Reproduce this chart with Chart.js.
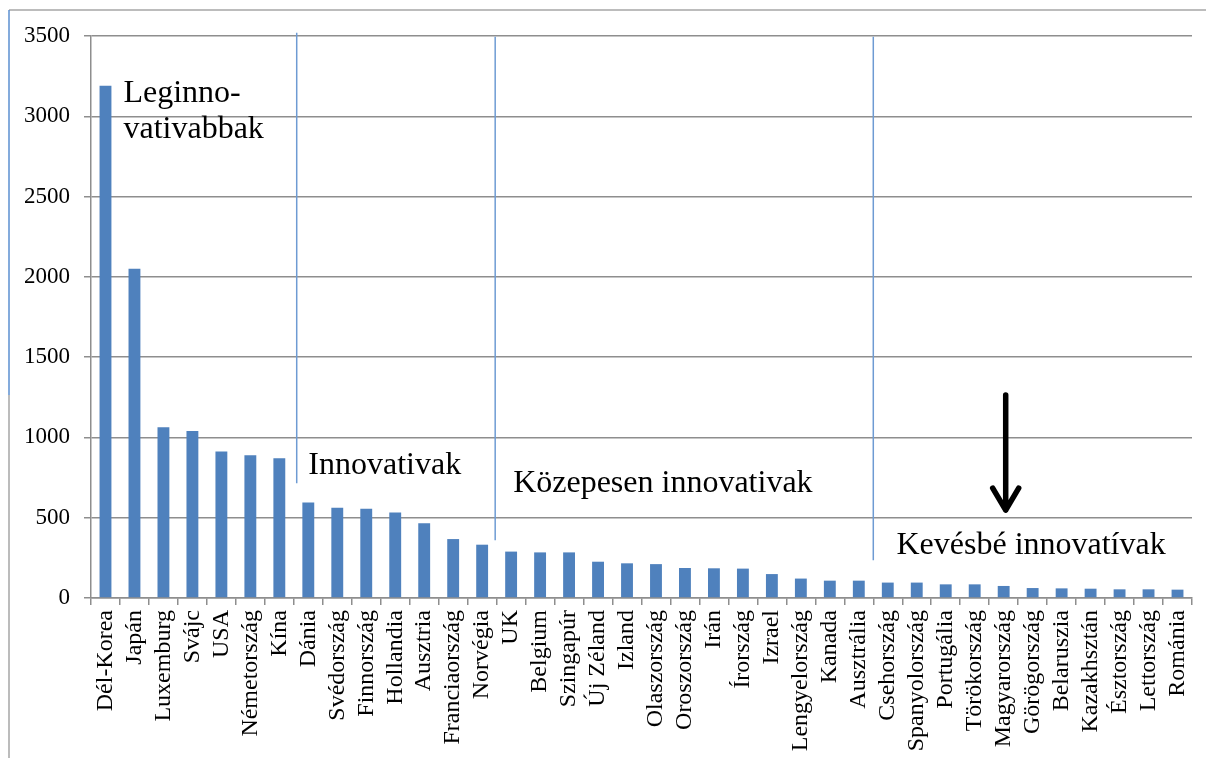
<!DOCTYPE html>
<html>
<head>
<meta charset="utf-8">
<script src="https://cdn.jsdelivr.net/npm/chart.js@4"></script>
<style>
  html, body { margin: 0; padding: 0; background: #fff; }
  #wrap { width: 1206px; height: 758px; position: relative; }
</style>
</head>
<body>
<div id="wrap"><canvas id="innovChart"></canvas></div>
<script>
// -----------------------------
// DATA
// -----------------------------
const countries = [
    'Dél-Korea', 'Japán', 'Luxemburg', 'Svájc', 'USA', 'Németország', 'Kína',
    'Dánia', 'Svédország', 'Finnország', 'Hollandia', 'Ausztria', 'Franciaország',
    'Norvégia', 'UK', 'Belgium', 'Szingapúr', 'Új Zéland', 'Izland', 'Olaszország',
    'Oroszország', 'Irán', 'Írország', 'Izrael', 'Lengyelország', 'Kanada',
    'Ausztrália', 'Csehország', 'Spanyolország', 'Portugália', 'Törökország',
    'Magyarország', 'Görögország', 'Belaruszia', 'Kazakhsztán', 'Észtország',
    'Lettország', 'Románia'
];

const values = [
    3190, 2050, 1063, 1040, 912, 889, 871,
    595, 562, 556, 533, 466, 367,
    332, 289, 284, 284, 226, 216, 211,
    187, 185, 183, 149, 121, 108,
    108, 96, 96, 85, 85,
    75, 62, 60, 58, 54,
    54, 52
];

const yTicks = [0, 500, 1000, 1500, 2000, 2500, 3000, 3500];

// group separators: [position between categories, top value, bottom value]
const separators = [
    [6.6, 3520, 715],
    [13.45, 3495, 360],
    [26.5, 3495, 235]
];

// group captions: [text, x position (category units), y value of baseline]
const captions = [
    ['Leginno-', 0.62, 3090],
    ['vativabbak', 0.62, 2862],
    ['Innovativak', 7.0, 773],
    ['Közepesen innovativak', 14.07, 660],
    ['Kevésbé innovatívak', 27.3, 277]
];

// arrow pointing at Magyarország: [category, from value, to value]
const arrow = [31.07, 1265, 535];

const SERIF = "'Liberation Serif', 'Times New Roman', serif";
const GRID = '#8e8e8e';

// -----------------------------
// ANNOTATIONS PLUGIN
// -----------------------------
const annotations = {
    id: 'annotations',
    afterDraw(chart) {
        const ctx = chart.ctx;
        const x = chart.scales.x;
        const y = chart.scales.y;

        ctx.save();

        // frame of the original picture
        ctx.strokeStyle = '#a6a6a6';
        ctx.lineWidth = 1.5;
        ctx.beginPath();
        ctx.moveTo(9, 10);
        ctx.lineTo(1206, 10);
        ctx.moveTo(9, 395);
        ctx.lineTo(9, 758);
        ctx.stroke();
        ctx.strokeStyle = '#5b8fd0';
        ctx.beginPath();
        ctx.moveTo(9, 10);
        ctx.lineTo(9, 395);
        ctx.stroke();

        // separator lines
        ctx.strokeStyle = '#6e9bd3';
        ctx.lineWidth = 1.5;
        separators.forEach(s => {
            const px = x.getPixelForValue(s[0]);
            ctx.beginPath();
            ctx.moveTo(px, y.getPixelForValue(s[1]));
            ctx.lineTo(px, y.getPixelForValue(s[2]));
            ctx.stroke();
        });

        // captions
        ctx.fillStyle = '#000';
        ctx.font = '32px ' + SERIF;
        ctx.textAlign = 'left';
        ctx.textBaseline = 'alphabetic';
        captions.forEach(c => {
            ctx.fillText(c[0], x.getPixelForValue(c[1]), y.getPixelForValue(c[2]));
        });

        // arrow
        const ax = x.getPixelForValue(arrow[0]);
        const y0 = y.getPixelForValue(arrow[1]);
        const y1 = y.getPixelForValue(arrow[2]);
        ctx.strokeStyle = '#000';
        ctx.lineWidth = 5.5;
        ctx.lineCap = 'round';
        ctx.lineJoin = 'round';
        ctx.beginPath();
        ctx.moveTo(ax, y0);
        ctx.lineTo(ax, y1 - 2);
        ctx.moveTo(ax - 13, y1 - 24);
        ctx.lineTo(ax, y1 - 2);
        ctx.lineTo(ax + 13, y1 - 24);
        ctx.stroke();

        ctx.restore();
    }
};

// -----------------------------
// CHART
// -----------------------------
new Chart(document.getElementById('innovChart'), {
    type: 'bar',
    data: {
        labels: countries,
        datasets: [
            {
                data: values,
                backgroundColor: '#4f81bd',
                categoryPercentage: 1,
                barPercentage: 0.41
            }
        ]
    },
    options: {
        responsive: true,
        maintainAspectRatio: false,
        animation: false,
        layout: { padding: { top: 36, right: 14, left: 0, bottom: 0 } },
        plugins: {
            legend: { display: false },
            tooltip: { enabled: false }
        },
        scales: {
            x: {
                afterFit: s => {
                    s.height = 160;
                    s.paddingLeft = 0;
                    s.paddingRight = 0;
                },
                grid: {
                    drawOnChartArea: false,
                    drawTicks: true,
                    tickLength: 7,
                    color: GRID,
                    lineWidth: 1.5
                },
                border: { color: GRID, width: 1.5 },
                ticks: {
                    autoSkip: false,
                    minRotation: 90,
                    maxRotation: 90,
                    padding: 5,
                    color: '#000',
                    font: { family: SERIF, size: 24 }
                }
            },
            y: {
                min: 0,
                max: 3500,
                afterFit: s => { s.width = 91; },
                afterBuildTicks: s => { s.ticks = yTicks.map(v => ({ value: v })); },
                grid: {
                    color: GRID,
                    lineWidth: 1.5,
                    tickLength: 7
                },
                border: { color: GRID, width: 1.5 },
                ticks: {
                    padding: 14,
                    color: '#000',
                    font: { family: SERIF, size: 23 },
                    callback: v => String(v)
                }
            }
        }
    },
    plugins: [annotations]
});
</script>
</body>
</html>
